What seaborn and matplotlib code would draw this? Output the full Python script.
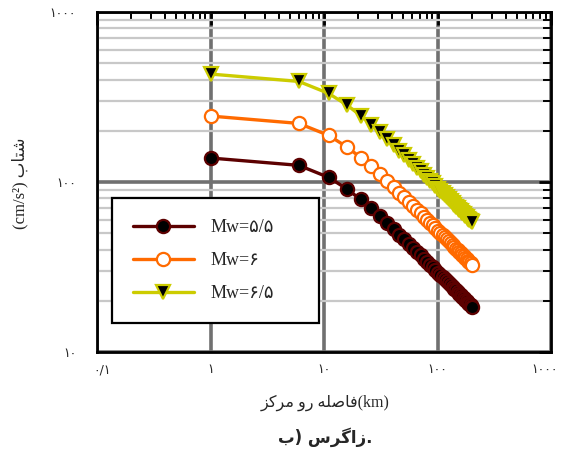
import matplotlib
matplotlib.use("Agg")
import matplotlib.pyplot as plt
import matplotlib.transforms as mtransforms
import seaborn as sns

# Epicentral distance (km) and peak acceleration (cm/s^2) per magnitude
distance_km = [1, 6, 11, 16, 21, 26, 31, 36, 41, 46, 51, 56, 61, 66, 71, 76, 81,
               86, 91, 96, 101, 106, 111, 116, 121, 126, 131, 136, 141, 146, 151,
               156, 161, 166, 171, 176, 181, 186, 191, 196, 201]

pga_mw55 = [138.4, 125.3, 106.4, 90.8, 78.9, 69.9, 63.0, 57.4, 52.9, 49.1, 46.1,
            43.3, 41.0, 38.9, 37.1, 35.4, 34.0, 32.7, 31.6, 30.4, 29.3, 28.5, 27.7,
            26.8, 26.0, 25.3, 24.8, 24.1, 23.5, 23.0, 22.6, 22.0, 21.6, 21.2, 20.8,
            20.3, 19.9, 19.5, 19.2, 19.0, 18.5]

pga_mw60 = [244.3, 221.1, 187.9, 160.3, 139.3, 123.4, 111.2, 101.4, 93.3, 86.7, 81.4,
            76.5, 72.3, 68.6, 65.5, 62.5, 60.1, 57.7, 55.7, 53.7, 51.8, 50.3, 48.9,
            47.4, 45.9, 44.7, 43.7, 42.5, 41.5, 40.6, 39.8, 38.8, 38.1, 37.4, 36.6,
            35.9, 35.2, 34.4, 34.0, 33.5, 32.7]

pga_mw65 = [431.5, 390.5, 331.8, 283.1, 246.0, 217.9, 196.3, 179.1, 164.8, 153.2, 143.7,
            135.1, 127.7, 121.3, 115.6, 110.5, 106.1, 101.8, 98.4, 94.9, 91.5, 88.9, 86.3,
            83.7, 81.1, 79.0, 77.2, 75.1, 73.4, 71.6, 70.3, 68.6, 67.3, 66.0, 64.7,
            63.4, 62.1, 60.8, 60.0, 59.1, 57.8]

series_labels = ["Mw=۵/۵", "Mw=۶", "Mw=۶/۵"]
x_tick_values = [0.1, 1, 10, 100, 1000]
x_tick_labels = ["۰/۱", "۱", "۱۰", "۱۰۰", "۱۰۰۰"]
y_tick_values = [10, 100, 1000]
y_tick_labels = ["۱۰", "۱۰۰", "۱۰۰۰"]

# Arabic-script presentation forms: (isolated, final, initial, medial)
FORMS = {
    "ا": ("\ufe8d", "\ufe8e", None, None),
    "ب": ("\ufe8f", "\ufe90", "\ufe91", "\ufe92"),
    "ت": ("\ufe95", "\ufe96", "\ufe97", "\ufe98"),
    "ر": ("\ufead", "\ufeae", None, None),
    "ز": ("\ufeaf", "\ufeb0", None, None),
    "س": ("\ufeb1", "\ufeb2", "\ufeb3", "\ufeb4"),
    "ش": ("\ufeb5", "\ufeb6", "\ufeb7", "\ufeb8"),
    "ص": ("\ufeb9", "\ufeba", "\ufebb", "\ufebc"),
    "ف": ("\ufed1", "\ufed2", "\ufed3", "\ufed4"),
    "ل": ("\ufedd", "\ufede", "\ufedf", "\ufee0"),
    "م": ("\ufee1", "\ufee2", "\ufee3", "\ufee4"),
    "ه": ("\ufee9", "\ufeea", "\ufeeb", "\ufeec"),
    "و": ("\ufeed", "\ufeee", None, None),
    "ک": ("\ufb8e", "\ufb8f", "\ufb90", "\ufb91"),
    "گ": ("\ufb92", "\ufb93", "\ufb94", "\ufb95"),
}


def shape_rtl(text):
    """Join Persian letters and return them in visual (left-to-right) order."""
    out = []
    for i, ch in enumerate(text):
        if ch not in FORMS:
            out.append(ch)
            continue
        iso, fin, ini, med = FORMS[ch]
        prev = text[i - 1] if i > 0 else ""
        nxt = text[i + 1] if i + 1 < len(text) else ""
        join_prev = prev in FORMS and FORMS[prev][2] is not None
        join_next = ini is not None and nxt in FORMS
        if join_prev and join_next:
            out.append(med)
        elif join_prev:
            out.append(fin)
        elif join_next:
            out.append(ini)
        else:
            out.append(iso)
    return "".join(reversed(out))


sns.set_style("white")
plt.rcParams["font.family"] = ["Liberation Serif", "DejaVu Sans"]

fig = plt.figure(figsize=(5.63, 4.55), dpi=100)
ax = fig.add_axes([0.1723, 0.2264, 0.8064, 0.7472])
ax.set_xscale("log")
ax.set_yscale("log")

line_kw = dict(linewidth=2.4, markersize=9.5, markeredgewidth=1.6)
sns.lineplot(x=distance_km, y=pga_mw55, ax=ax, color="#5c0000", marker="o",
             markerfacecolor="black", markeredgecolor="#5c0000",
             label=series_labels[0], **line_kw)
sns.lineplot(x=distance_km, y=pga_mw60, ax=ax, color="#ff6a00", marker="o",
             markerfacecolor="white", markeredgecolor="#ff6a00",
             label=series_labels[1], **line_kw)
sns.lineplot(x=distance_km, y=pga_mw65, ax=ax, color="#cccc00", marker="v",
             markerfacecolor="black", markeredgecolor="#cccc00",
             label=series_labels[2], **line_kw)

ax.set_xlim(0.1, 1000)
ax.set_ylim(10, 1000)

ax.set_axisbelow(True)
ax.yaxis.grid(True, which="minor", color="#c8c8c8", linewidth=1.6)
ax.yaxis.grid(True, which="major", color="#707070", linewidth=2.6)
ax.xaxis.grid(True, which="major", color="#707070", linewidth=2.6)
ax.xaxis.grid(False, which="minor")

ax.set_xticks(x_tick_values, labels=x_tick_labels)
ax.set_yticks(y_tick_values, labels=y_tick_labels)
ax.tick_params(which="both", direction="in", top=True, right=True, color="black")
ax.tick_params(which="major", length=9, width=2)
ax.tick_params(which="minor", length=6, width=1.4)
ax.tick_params(axis="x", which="major", pad=8, labelsize=9)
ax.tick_params(axis="y", which="major", pad=15, labelsize=9)
for lab in ax.get_xticklabels() + ax.get_yticklabels():
    lab.set_family(["DejaVu Sans"])

# keep the outermost distance labels inside the figure
xlabels = ax.get_xticklabels()
xlabels[0].set_transform(xlabels[0].get_transform() +
                         mtransforms.ScaledTranslation(5 / 100, 0, fig.dpi_scale_trans))
xlabels[-1].set_transform(xlabels[-1].get_transform() +
                          mtransforms.ScaledTranslation(-6 / 100, 0, fig.dpi_scale_trans))

for spine in ax.spines.values():
    spine.set_visible(True)
    spine.set_color("black")
    spine.set_linewidth(2)

leg = ax.legend(loc="lower left", bbox_to_anchor=(0.033, 0.085, 0.455, 0.3),
                mode="expand", borderaxespad=0,
                frameon=True, fancybox=False, framealpha=1, edgecolor="black",
                fontsize=13, borderpad=1.15, labelspacing=0.9,
                handlelength=3.4, handletextpad=0.9)
leg.get_frame().set_linewidth(1.6)

fig.text(0.577, 0.114, shape_rtl("فاصله رو مرکز") + "(km)",
         ha="center", va="center", fontsize=11.5)
fig.text(0.577, 0.040, shape_rtl("ب") + ") " + shape_rtl("زاگرس") + ".",
         ha="center", va="center", fontsize=12, fontweight="bold",
         family=["DejaVu Sans"])
fig.text(0.036, 0.598, "(cm/s²) " + shape_rtl("شتاب"),
         ha="center", va="center", rotation=90, fontsize=12)

fig.savefig("out.png", dpi=100)
